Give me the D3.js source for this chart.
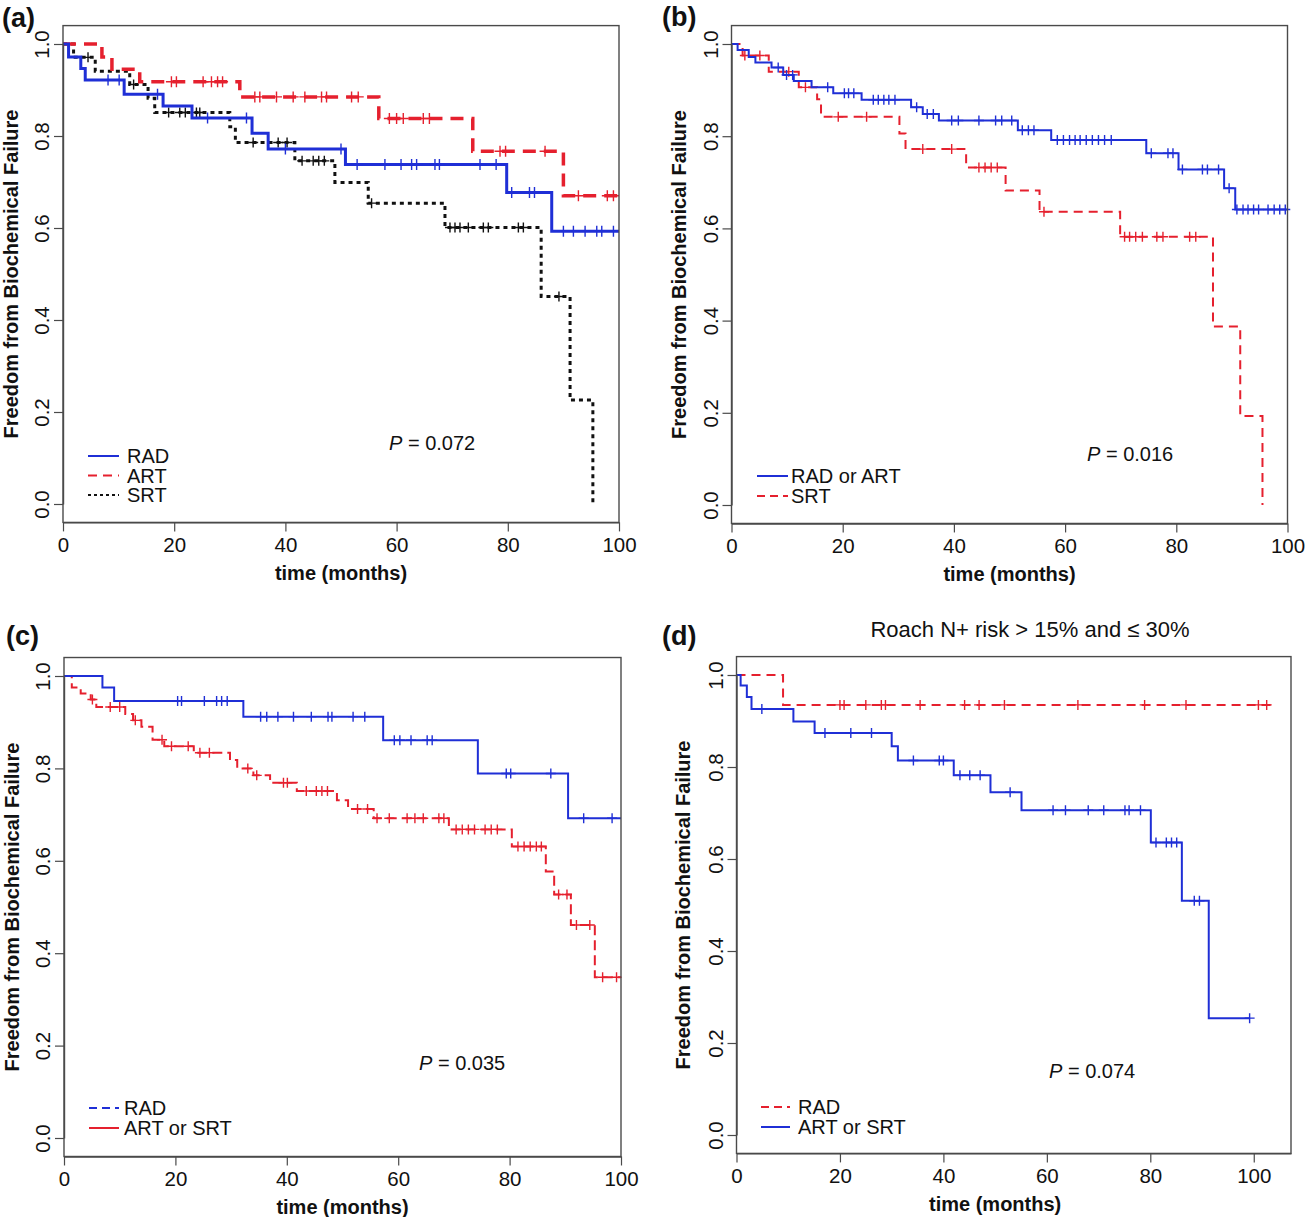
<!DOCTYPE html>
<html><head><meta charset="utf-8">
<script src="https://cdn.jsdelivr.net/npm/d3@7"></script>
<style>
html,body{margin:0;padding:0;background:#fff;}
text{font-family:"Liberation Sans",Arial,Helvetica,sans-serif;}
</style></head>
<body>
<svg id="chart" width="1305" height="1217"></svg>
<script>
// ---------------- DATA ----------------
const xTicks = [0, 20, 40, 60, 80, 100];
const yTicks = [0, 0.2, 0.4, 0.6, 0.8, 1.0];
const yTitle = "Freedom from Biochemical Failure";
const xTitle = "time (months)";

// Panel (a)
const aRadSteps = [[1,0.972],[3.2,0.947],[4,0.922],[11,0.891],[18,0.865],[23.2,0.839],[34,0.806],[36.9,0.772],[50.8,0.738],[79.8,0.677],[87.9,0.593]];
const aRadCensor = [8.1,10.1,17,26,33,40,50,52.9,57.9,60.8,62.7,63.6,66.9,67.7,75,77.9,80.7,83.9,84.8,90,91.8,93.9,96,96.9,99];
const aRadEnd = 100;
const aArtSteps = [[7,0.972],[8.8,0.945],[13.8,0.918],[31.8,0.885],[56.8,0.838],[73.7,0.767],[90,0.670]];
const aArtCensor = [19.5,20.4,25.2,26.7,27.8,28.7,34.5,35.4,38.4,41.4,43.5,46.5,47.4,51.9,53.1,58.7,60,61.2,64.8,65.9,78.6,79.6,86.7,92.7,97.9,99];
const aArtEnd = 100;
const aSrtSteps = [[1.9,0.971],[5.8,0.941],[12,0.912],[15.3,0.882],[16.5,0.851],[30,0.82],[31,0.786],[41.7,0.746],[48.9,0.699],[54.9,0.654],[68.7,0.601],[86,0.451],[91.2,0.226],[95.3,0]];
const aSrtCensor = [4.5,12.7,19,21,22,24,24.6,34.2,38.7,40.3,43,45,46,47,55.5,69.6,70.5,71.4,72.9,75.6,76.5,81.9,82.8,89.2];
const aSrtEnd = 95.3;
const aLegend = ["RAD", "ART", "SRT"];
const aP = "0.072";

// Panel (b)
const bBlueSteps = [[1.1,0.987],[3.1,0.972],[4.3,0.96],[7.2,0.949],[9.3,0.933],[11.2,0.92],[14.4,0.906],[18.3,0.893],[23.4,0.879],[32.3,0.863],[34.4,0.848],[37.3,0.834],[51.5,0.813],[57.5,0.792],[74.6,0.763],[80.4,0.728],[88.6,0.687],[90.6,0.641]];
const bBlueCensor = [8.4,9.9,11,17.3,20.3,21.05,22,25.5,26.4,27.4,28.3,29.4,33.3,35.2,36.3,39.6,40.8,44.5,47.5,48.6,50.4,52.3,53.4,54.4,58.6,59.7,60.8,61.8,62.7,63.8,64.9,66,67.1,68.3,75.5,78.5,79.4,81.1,84.7,85.6,87.6,89.5,90.9,92,92.9,93.9,94.8,96.5,97.6,98.6,99.6];
const bBlueEnd = 100;
const bRedSteps = [[2,0.975],[6.7,0.94],[12.1,0.906],[15.4,0.88],[16.1,0.842],[30.2,0.806],[31.3,0.772],[42.2,0.732],[49.3,0.682],[55.4,0.636],[69.9,0.582],[86.6,0.387],[91.5,0.193],[95.5,0]];
const bRedCensor = [2.4,5.1,10.3,13.3,19.2,24.3,34.4,39.6,44.5,45.6,46.7,47.8,56.2,70.7,71.6,72.7,73.9,76.5,77.6,82.4,83.5];
const bRedEnd = 95.5;
const bLegend = ["RAD or ART", "SRT"];
const bP = "0.016";

// Panel (c)
const cBlueSteps = [[6.9,0.975],[9,0.946],[32.2,0.912],[57.3,0.861],[74.3,0.789],[90.5,0.692]];
const cBlueCensor = [20.4,21.1,25.2,27.4,28.3,29.3,35.3,36.4,38.4,41.2,44.4,47.4,48.1,51.9,54,59.3,60.3,62.3,65.2,66.1,79.4,80.2,87.4,93.3,98.4];
const cBlueEnd = 100;
const cRedSteps = [[1.4,0.975],[3,0.962],[4.8,0.949],[5.8,0.933],[11,0.918],[12.4,0.904],[13.9,0.89],[15.9,0.862],[18,0.848],[23.3,0.834],[29.8,0.818],[31.1,0.8],[34,0.785],[37,0.769],[41.8,0.751],[49,0.731],[51,0.712],[55.6,0.692],[69.1,0.668],[80.4,0.631],[86.5,0.577],[88,0.527],[91,0.461],[95.3,0.348]];
const cRedCensor = [5.1,8.3,10,12.8,17.6,19.3,22.3,24.4,26.1,33,34.6,39.4,40.1,43.5,45.3,46.3,47.3,52.7,54.5,56.2,58.4,61.6,63,64.5,67.3,68.2,70.4,71.5,72.6,73.7,75.6,76.7,77.8,81.5,82.6,83.7,84.8,85.7,88.8,90.3,92,94.4,96.7,99.2];
const cRedEnd = 100;
const cLegend = ["RAD", "ART or SRT"];
const cP = "0.035";

// Panel (d)
const dRedSteps = [[9,0.935]];
const dRedCensor = [20,20.8,25,28,28.8,35.5,44.1,46.9,51.8,66,78.9,86.9,100.9,102.5];
const dRedEnd = 103.7;
const dBlueSteps = [[0.8,0.977],[2,0.952],[2.9,0.926],[11,0.899],[15.1,0.874],[30,0.845],[31.2,0.814],[42,0.782],[49.1,0.745],[55.1,0.706],[80.1,0.636],[86.1,0.509],[91.3,0.254]];
const dBlueCensor = [4.9,17.1,22.1,26.1,34.2,39.2,40,43.2,45.1,47.1,52.9,61.2,63.6,68,71,75.1,75.9,78.1,81.1,83.1,84.1,85.1,88.5,89.5,99.2];
const dBlueEnd = 99.2;
const dLegend = ["RAD", "ART or SRT"];
const dP = "0.074";
const dTitle = "Roach N+ risk > 15% and \u2264 30%";

// ---------------- DRAWING ----------------
const BLUE = "#1f2fd6", RED = "#e5202e", BLACK = "#111";
const svg = d3.select("#chart");

function survAt(steps, t) {
  let s = 1;
  for (const [tt, v] of steps) { if (tt <= t) s = v; else break; }
  return s;
}
function stepPoints(steps, end) {
  const pts = [[0, 1]];
  let s = 1;
  for (const [t, v] of steps) { pts.push([t, s]); pts.push([t, v]); s = v; }
  const last = pts[pts.length - 1];
  if (end > last[0]) pts.push([end, s]);
  return pts;
}

function panel(cfg) {
  const g = svg.append("g");
  const x = d3.scaleLinear().domain(cfg.xDomain).range([cfg.left, cfg.right]);
  const y = d3.scaleLinear().domain([0, 1]).range([cfg.y0, cfg.y1]);
  const ext = 0.04 * (cfg.y0 - cfg.y1);
  const top = cfg.y1 - ext, bottom = cfg.y0 + ext;

  const line = d3.line().x(d => x(d[0])).y(d => y(d[1]));
  cfg.series.forEach(s => {
    g.append("path").attr("d", line(stepPoints(s.steps, s.end)))
      .attr("fill", "none").attr("stroke", s.color).attr("stroke-width", s.width)
      .attr("stroke-dasharray", s.dash || null).attr("stroke-linecap", "butt");
    const m = s.mark;
    s.censor.forEach(t => {
      const cx = x(t), cy = y(survAt(s.steps, t));
      g.append("path").attr("d", `M${cx},${cy - m}V${cy + m}M${cx - m},${cy}H${cx + m}`)
        .attr("stroke", s.color).attr("stroke-width", 1.4).attr("fill", "none");
    });
  });

  g.append("rect").attr("x", cfg.left).attr("y", top).attr("width", cfg.right - cfg.left)
    .attr("height", bottom - top).attr("fill", "none").attr("stroke", "#4a4a4a").attr("stroke-width", 1.4);

  const xa = g.append("g").attr("transform", `translate(0,${bottom})`)
    .call(d3.axisBottom(x).tickValues(xTicks).tickSize(9).tickSizeOuter(0).tickPadding(6));
  xa.select(".domain").attr("stroke", "#4a4a4a").attr("stroke-width", 1.4);
  xa.selectAll(".tick line").attr("stroke", "#4a4a4a").attr("stroke-width", 1.2);
  xa.selectAll("text").attr("font-size", 20.5).attr("fill", "#111")
    .style("font-family", '"Liberation Sans",Arial,sans-serif');

  const ya = g.append("g").attr("transform", `translate(${cfg.left},0)`)
    .call(d3.axisLeft(y).tickValues(yTicks).tickSize(9).tickSizeOuter(0).tickFormat(d3.format(".1f")));
  ya.select(".domain").attr("stroke", "#4a4a4a").attr("stroke-width", 1.4);
  ya.selectAll(".tick line").attr("stroke", "#4a4a4a").attr("stroke-width", 1.2);
  ya.selectAll("text").attr("x", 0).attr("dy", 0).attr("text-anchor", "middle")
    .attr("transform", "translate(-14,0) rotate(-90)").attr("font-size", 20.5).attr("fill", "#111")
    .style("font-family", '"Liberation Sans",Arial,sans-serif');

  g.append("text").attr("x", (x(0) + x(100)) / 2).attr("y", bottom + 58)
    .attr("text-anchor", "middle").attr("font-size", 20).attr("font-weight", "bold").attr("fill", "#111")
    .text(xTitle);
  g.append("text").attr("transform", `translate(${cfg.left - cfg.yTitleOff},${(cfg.y0 + cfg.y1) / 2}) rotate(-90)`)
    .attr("text-anchor", "middle").attr("font-size", 20).attr("font-weight", "bold").attr("fill", "#111")
    .text(yTitle);

  g.append("text").attr("x", cfg.labelX).attr("y", cfg.labelY).attr("font-size", 27)
    .attr("font-weight", "bold").attr("fill", "#111").text(cfg.label);

  const pt = g.append("text").attr("x", cfg.pX).attr("y", cfg.pY).attr("font-size", 20).attr("fill", "#111");
  pt.append("tspan").attr("font-style", "italic").text("P");
  pt.append("tspan").text(" = " + cfg.p);

  cfg.legend.forEach((L, i) => {
    const ly = cfg.legY + i * cfg.legGap;
    g.append("line").attr("x1", cfg.legX1).attr("x2", cfg.legX2).attr("y1", ly).attr("y2", ly)
      .attr("stroke", L.color).attr("stroke-width", L.width).attr("stroke-dasharray", L.dash || null);
    g.append("text").attr("x", cfg.legTX).attr("y", ly + 7).attr("font-size", 20).attr("fill", "#111").text(L.text);
  });

  if (cfg.title) {
    g.append("text").attr("x", cfg.titleX).attr("y", cfg.titleY).attr("text-anchor", "middle")
      .attr("font-size", 22).attr("fill", "#111").text(cfg.title);
  }
}

panel({
  left: 63, right: 619, xDomain: [0, 100], y1: 44, y0: 504, yTitleOff: 45,
  label: "(a)", labelX: 2, labelY: 27,
  p: aP, pX: 389, pY: 450,
  legX1: 88, legX2: 119, legTX: 127, legY: 456, legGap: 19.5,
  legend: [
    {text: aLegend[0], color: BLUE, width: 2, dash: null},
    {text: aLegend[1], color: RED, width: 2, dash: "9,6"},
    {text: aLegend[2], color: BLACK, width: 2, dash: "3,3"}],
  series: [
    {steps: aSrtSteps, censor: aSrtCensor, end: aSrtEnd, color: BLACK, width: 3, dash: "4,4", mark: 5},
    {steps: aArtSteps, censor: aArtCensor, end: aArtEnd, color: RED, width: 3.5, dash: "13,8", mark: 5.5},
    {steps: aRadSteps, censor: aRadCensor, end: aRadEnd, color: BLUE, width: 3, dash: null, mark: 5.5}]
});

panel({
  left: 731.5, right: 1287.5, xDomain: [0, 100], y1: 44, y0: 505, yTitleOff: 46,
  label: "(b)", labelX: 662, labelY: 26,
  p: bP, pX: 1087, pY: 461,
  legX1: 757, legX2: 788, legTX: 791, legY: 476, legGap: 20,
  legend: [
    {text: bLegend[0], color: BLUE, width: 2, dash: null},
    {text: bLegend[1], color: RED, width: 2, dash: "8,5"}],
  series: [
    {steps: bRedSteps, censor: bRedCensor, end: bRedEnd, color: RED, width: 2, dash: "9,6", mark: 5},
    {steps: bBlueSteps, censor: bBlueCensor, end: bBlueEnd, color: BLUE, width: 2, dash: null, mark: 5}]
});

panel({
  left: 64, right: 621, xDomain: [0, 100], y1: 676, y0: 1138, yTitleOff: 45,
  label: "(c)", labelX: 6, labelY: 645,
  p: cP, pX: 419, pY: 1070,
  legX1: 89, legX2: 119, legTX: 124, legY: 1108, legGap: 20,
  legend: [
    {text: cLegend[0], color: BLUE, width: 2, dash: "8,5"},
    {text: cLegend[1], color: RED, width: 2, dash: null}],
  series: [
    {steps: cRedSteps, censor: cRedCensor, end: cRedEnd, color: RED, width: 2, dash: "10,5", mark: 5},
    {steps: cBlueSteps, censor: cBlueCensor, end: cBlueEnd, color: BLUE, width: 2, dash: null, mark: 5}]
});

panel({
  left: 736.5, right: 1291, xDomain: [0, 107.2], y1: 675, y0: 1135, yTitleOff: 47,
  label: "(d)", labelX: 662, labelY: 645,
  p: dP, pX: 1049, pY: 1078,
  legX1: 761, legX2: 790, legTX: 798, legY: 1107, legGap: 20,
  title: dTitle, titleX: 1030, titleY: 637,
  legend: [
    {text: dLegend[0], color: RED, width: 2, dash: "8,5"},
    {text: dLegend[1], color: BLUE, width: 2, dash: null}],
  series: [
    {steps: dRedSteps, censor: dRedCensor, end: dRedEnd, color: RED, width: 2, dash: "9,6", mark: 5},
    {steps: dBlueSteps, censor: dBlueCensor, end: dBlueEnd, color: BLUE, width: 2, dash: null, mark: 5}]
});
</script>
</body></html>
